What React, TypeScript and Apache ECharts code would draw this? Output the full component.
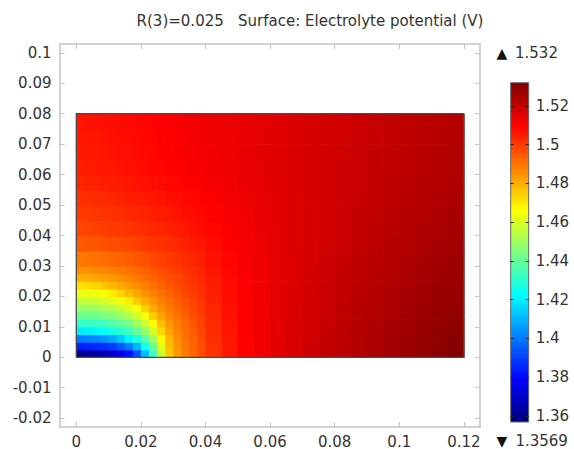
import React, { useEffect, useRef } from "react";
import * as echarts from "echarts";

// Cell edges of the sampled surface (m)
const xEdges = [0, 0.0025, 0.005, 0.0075, 0.01, 0.0125, 0.015, 0.0175, 0.02, 0.0225, 0.025, 0.0275, 0.03, 0.0325, 0.035, 0.0375, 0.04,
  0.045, 0.05, 0.055, 0.06, 0.065, 0.07, 0.075, 0.08, 0.085, 0.09, 0.095, 0.1, 0.105, 0.11, 0.115, 0.12];
const yEdges = [0, 0.0025, 0.005, 0.0075, 0.01, 0.0125, 0.015, 0.0175, 0.02, 0.0225, 0.025, 0.0275, 0.03,
  0.035, 0.04, 0.045, 0.05, 0.055, 0.06, 0.065, 0.07, 0.075, 0.08];

// Electrolyte potential (V) per cell, rows from y=0 upward, columns from x=0 rightward
const potential = [
  [1.3595, 1.3608, 1.3628, 1.3658, 1.3700, 1.3750, 1.3812, 1.3925, 1.4112, 1.4333, 1.4580, 1.4756, 1.4837, 1.4890, 1.4927, 1.4966, 1.5012, 1.5059, 1.5097, 1.5125, 1.5149, 1.5170, 1.5187, 1.5203, 1.5219, 1.5233, 1.5247, 1.5261, 1.5274, 1.5286, 1.5299, 1.5312],
  [1.3836, 1.3842, 1.3854, 1.3871, 1.3891, 1.3937, 1.3998, 1.4102, 1.4253, 1.4410, 1.4618, 1.4772, 1.4844, 1.4894, 1.4930, 1.4969, 1.5016, 1.5062, 1.5098, 1.5125, 1.5148, 1.5168, 1.5186, 1.5202, 1.5217, 1.5231, 1.5245, 1.5258, 1.5271, 1.5283, 1.5296, 1.5308],
  [1.3998, 1.4006, 1.4024, 1.4049, 1.4082, 1.4136, 1.4209, 1.4285, 1.4374, 1.4504, 1.4672, 1.4790, 1.4857, 1.4901, 1.4935, 1.4974, 1.5021, 1.5064, 1.5099, 1.5126, 1.5148, 1.5168, 1.5185, 1.5200, 1.5216, 1.5229, 1.5243, 1.5256, 1.5268, 1.5280, 1.5292, 1.5304],
  [1.4191, 1.4199, 1.4214, 1.4236, 1.4264, 1.4297, 1.4333, 1.4398, 1.4478, 1.4594, 1.4726, 1.4814, 1.4873, 1.4910, 1.4945, 1.4980, 1.5025, 1.5067, 1.5100, 1.5126, 1.5148, 1.5167, 1.5184, 1.5199, 1.5214, 1.5227, 1.5241, 1.5254, 1.5265, 1.5277, 1.5289, 1.5300],
  [1.4313, 1.4317, 1.4325, 1.4339, 1.4366, 1.4398, 1.4434, 1.4495, 1.4572, 1.4673, 1.4778, 1.4840, 1.4887, 1.4921, 1.4955, 1.4986, 1.5029, 1.5069, 1.5101, 1.5126, 1.5147, 1.5166, 1.5182, 1.5197, 1.5212, 1.5226, 1.5238, 1.5251, 1.5263, 1.5274, 1.5285, 1.5295],
  [1.4404, 1.4408, 1.4417, 1.4430, 1.4449, 1.4486, 1.4527, 1.4584, 1.4654, 1.4750, 1.4817, 1.4867, 1.4903, 1.4934, 1.4967, 1.4993, 1.5033, 1.5072, 1.5102, 1.5126, 1.5147, 1.5165, 1.5181, 1.5196, 1.5210, 1.5224, 1.5236, 1.5249, 1.5260, 1.5271, 1.5282, 1.5291],
  [1.4483, 1.4488, 1.4499, 1.4515, 1.4536, 1.4568, 1.4612, 1.4660, 1.4742, 1.4805, 1.4852, 1.4889, 1.4920, 1.4950, 1.4978, 1.5001, 1.5038, 1.5074, 1.5103, 1.5127, 1.5147, 1.5164, 1.5180, 1.5194, 1.5209, 1.5222, 1.5234, 1.5247, 1.5257, 1.5268, 1.5278, 1.5287],
  [1.4556, 1.4563, 1.4575, 1.4593, 1.4616, 1.4645, 1.4692, 1.4755, 1.4805, 1.4846, 1.4881, 1.4909, 1.4937, 1.4965, 1.4988, 1.5009, 1.5042, 1.5077, 1.5104, 1.5127, 1.5146, 1.5163, 1.5179, 1.5193, 1.5207, 1.5220, 1.5232, 1.5244, 1.5254, 1.5265, 1.5275, 1.5283],
  [1.4632, 1.4636, 1.4645, 1.4659, 1.4695, 1.4737, 1.4780, 1.4817, 1.4849, 1.4879, 1.4905, 1.4930, 1.4955, 1.4979, 1.4998, 1.5017, 1.5047, 1.5080, 1.5106, 1.5127, 1.5146, 1.5162, 1.5178, 1.5191, 1.5205, 1.5218, 1.5230, 1.5242, 1.5252, 1.5262, 1.5272, 1.5280],
  [1.4716, 1.4724, 1.4739, 1.4760, 1.4784, 1.4810, 1.4836, 1.4859, 1.4883, 1.4905, 1.4928, 1.4951, 1.4972, 1.4990, 1.5007, 1.5025, 1.5052, 1.5083, 1.5108, 1.5128, 1.5146, 1.5161, 1.5177, 1.5190, 1.5204, 1.5216, 1.5228, 1.5239, 1.5249, 1.5259, 1.5269, 1.5277],
  [1.4800, 1.4805, 1.4814, 1.4827, 1.4841, 1.4856, 1.4874, 1.4892, 1.4910, 1.4930, 1.4950, 1.4968, 1.4985, 1.5000, 1.5017, 1.5033, 1.5058, 1.5086, 1.5109, 1.5129, 1.5146, 1.5161, 1.5176, 1.5189, 1.5202, 1.5214, 1.5225, 1.5237, 1.5247, 1.5256, 1.5266, 1.5274],
  [1.4852, 1.4854, 1.4860, 1.4868, 1.4879, 1.4891, 1.4905, 1.4920, 1.4937, 1.4952, 1.4968, 1.4983, 1.4996, 1.5011, 1.5025, 1.5039, 1.5064, 1.5090, 1.5111, 1.5130, 1.5146, 1.5160, 1.5175, 1.5188, 1.5200, 1.5212, 1.5223, 1.5234, 1.5244, 1.5253, 1.5262, 1.5271],
  [1.4897, 1.4902, 1.4908, 1.4915, 1.4923, 1.4931, 1.4941, 1.4953, 1.4965, 1.4978, 1.4990, 1.5002, 1.5013, 1.5025, 1.5038, 1.5049, 1.5072, 1.5095, 1.5114, 1.5131, 1.5146, 1.5160, 1.5173, 1.5186, 1.5198, 1.5209, 1.5220, 1.5231, 1.5241, 1.5249, 1.5258, 1.5266],
  [1.4950, 1.4953, 1.4957, 1.4963, 1.4969, 1.4976, 1.4983, 1.4991, 1.5000, 1.5009, 1.5017, 1.5027, 1.5036, 1.5045, 1.5055, 1.5064, 1.5083, 1.5102, 1.5117, 1.5132, 1.5146, 1.5159, 1.5171, 1.5183, 1.5195, 1.5205, 1.5215, 1.5226, 1.5236, 1.5244, 1.5252, 1.5260],
  [1.4985, 1.4987, 1.4991, 1.4996, 1.5001, 1.5007, 1.5013, 1.5018, 1.5025, 1.5032, 1.5039, 1.5046, 1.5054, 1.5062, 1.5069, 1.5077, 1.5093, 1.5108, 1.5121, 1.5135, 1.5147, 1.5159, 1.5170, 1.5182, 1.5192, 1.5202, 1.5212, 1.5221, 1.5231, 1.5239, 1.5247, 1.5255],
  [1.5003, 1.5005, 1.5009, 1.5014, 1.5018, 1.5024, 1.5030, 1.5035, 1.5041, 1.5048, 1.5054, 1.5061, 1.5068, 1.5075, 1.5081, 1.5088, 1.5101, 1.5114, 1.5126, 1.5138, 1.5149, 1.5160, 1.5170, 1.5181, 1.5190, 1.5200, 1.5209, 1.5218, 1.5227, 1.5235, 1.5242, 1.5250],
  [1.5021, 1.5024, 1.5027, 1.5031, 1.5036, 1.5041, 1.5047, 1.5052, 1.5058, 1.5063, 1.5069, 1.5075, 1.5081, 1.5088, 1.5094, 1.5099, 1.5110, 1.5121, 1.5131, 1.5141, 1.5151, 1.5161, 1.5170, 1.5180, 1.5189, 1.5197, 1.5206, 1.5215, 1.5223, 1.5230, 1.5238, 1.5245],
  [1.5039, 1.5042, 1.5045, 1.5049, 1.5053, 1.5058, 1.5064, 1.5069, 1.5074, 1.5079, 1.5084, 1.5090, 1.5095, 1.5101, 1.5106, 1.5110, 1.5118, 1.5127, 1.5136, 1.5144, 1.5153, 1.5162, 1.5170, 1.5179, 1.5187, 1.5195, 1.5203, 1.5212, 1.5219, 1.5226, 1.5233, 1.5240],
  [1.5051, 1.5054, 1.5057, 1.5060, 1.5064, 1.5069, 1.5074, 1.5079, 1.5084, 1.5089, 1.5094, 1.5099, 1.5104, 1.5109, 1.5113, 1.5117, 1.5123, 1.5131, 1.5139, 1.5146, 1.5154, 1.5162, 1.5170, 1.5178, 1.5186, 1.5194, 1.5202, 1.5209, 1.5216, 1.5223, 1.5230, 1.5236],
  [1.5056, 1.5059, 1.5062, 1.5065, 1.5069, 1.5074, 1.5078, 1.5083, 1.5088, 1.5093, 1.5097, 1.5102, 1.5107, 1.5112, 1.5116, 1.5120, 1.5125, 1.5133, 1.5140, 1.5147, 1.5154, 1.5162, 1.5170, 1.5177, 1.5185, 1.5193, 1.5201, 1.5208, 1.5214, 1.5221, 1.5228, 1.5234],
  [1.5061, 1.5064, 1.5067, 1.5070, 1.5074, 1.5078, 1.5083, 1.5087, 1.5091, 1.5096, 1.5101, 1.5106, 1.5110, 1.5115, 1.5119, 1.5123, 1.5128, 1.5134, 1.5141, 1.5148, 1.5155, 1.5162, 1.5169, 1.5177, 1.5184, 1.5192, 1.5200, 1.5206, 1.5213, 1.5219, 1.5225, 1.5231],
  [1.5066, 1.5069, 1.5072, 1.5075, 1.5079, 1.5083, 1.5087, 1.5091, 1.5095, 1.5100, 1.5104, 1.5109, 1.5113, 1.5118, 1.5122, 1.5126, 1.5130, 1.5136, 1.5142, 1.5149, 1.5155, 1.5162, 1.5169, 1.5176, 1.5183, 1.5191, 1.5198, 1.5205, 1.5211, 1.5217, 1.5223, 1.5229],
];

const domainX = [0, 0.12];
const domainY = [0, 0.08];
const xTicks = [0, 0.02, 0.04, 0.06, 0.08, 0.1, 0.12];
const yTicks = [-0.02, -0.01, 0, 0.01, 0.02, 0.03, 0.04, 0.05, 0.06, 0.07, 0.08, 0.09, 0.1];
const colorTicks = [1.36, 1.38, 1.4, 1.42, 1.44, 1.46, 1.48, 1.5, 1.52];
const rangeMin = 1.3569;
const rangeMax = 1.532;
const titleText = "R(3)=0.025   Surface: Electrolyte potential (V)";
const jetColors = ["#00007f", "#0000ff", "#007fff", "#00ffff", "#7fff7f", "#ffff00", "#ff7f00", "#ff0000", "#7f0000"];

const FONT = "DejaVu Sans";
const TXT = "#333333";
const FRAME = "#c4c4c4";

const fmt = (v: number) => String(parseFloat(Number(v).toFixed(4)));

export default function App() {
  const ref = useRef<HTMLDivElement>(null);

  useEffect(() => {
    if (!ref.current) return;
    const chart = echarts.init(ref.current, null, { renderer: "svg" });

    const cells: number[][] = [];
    for (let i = 0; i < potential.length; i++) {
      for (let j = 0; j < potential[i].length; j++) {
        cells.push([xEdges[j], xEdges[j + 1], yEdges[i], yEdges[i + 1], potential[i][j]]);
      }
    }
    const outline = [
      [domainX[0], domainY[0]],
      [domainX[1], domainY[0]],
      [domainX[1], domainY[1]],
      [domainX[0], domainY[1]],
      [domainX[0], domainY[0]],
    ];

    const gradStops = jetColors.map((c, i) => ({ offset: i / (jetColors.length - 1), color: c }));

    const mainX = { min: -0.0052, max: 0.125 };
    const mainY = { min: -0.0229, max: 0.1029 };
    const lbl = { fontFamily: FONT, fontSize: 15, color: TXT };

    const option: any = {
      animation: false,
      backgroundColor: "#ffffff",
      textStyle: { fontFamily: FONT },
      grid: [
        { left: 59.5, top: 44, width: 420.5, height: 383.3 },
        {
          left: 510.7, top: 82.7, width: 18, height: 339.3,
          show: true,
          backgroundColor: new echarts.graphic.LinearGradient(0, 1, 0, 0, gradStops),
          borderColor: "#666666",
          borderWidth: 1,
        },
      ],
      xAxis: [
        {
          type: "value", gridIndex: 0, position: "bottom", ...mainX,
          axisLine: { show: true, onZero: false, lineStyle: { color: FRAME, width: 1.5 } },
          axisTick: { show: true, inside: true, length: 5, customValues: xTicks, lineStyle: { color: FRAME } },
          axisLabel: { ...lbl, margin: 7, customValues: xTicks, formatter: (v: number) => fmt(v) },
          splitLine: { show: false },
        },
        {
          type: "value", gridIndex: 0, position: "top", ...mainX,
          axisLine: { show: true, onZero: false, lineStyle: { color: FRAME, width: 1.5 } },
          axisTick: { show: true, inside: true, length: 5, customValues: xTicks, lineStyle: { color: FRAME } },
          axisLabel: { show: false },
          splitLine: { show: false },
        },
        { type: "value", gridIndex: 1, show: false, min: 0, max: 1 },
      ],
      yAxis: [
        {
          type: "value", gridIndex: 0, position: "left", ...mainY,
          axisLine: { show: true, onZero: false, lineStyle: { color: FRAME, width: 1.5 } },
          axisTick: { show: true, inside: true, length: 5, customValues: yTicks, lineStyle: { color: FRAME } },
          axisLabel: { ...lbl, margin: 8, customValues: yTicks, formatter: (v: number) => fmt(v) },
          splitLine: { show: false },
        },
        {
          type: "value", gridIndex: 0, position: "right", ...mainY,
          axisLine: { show: true, onZero: false, lineStyle: { color: FRAME, width: 1.5 } },
          axisTick: { show: true, inside: true, length: 5, customValues: yTicks, lineStyle: { color: FRAME } },
          axisLabel: { show: false },
          splitLine: { show: false },
        },
        {
          type: "value", gridIndex: 1, position: "right", min: rangeMin, max: rangeMax,
          axisLine: { show: false, onZero: false },
          axisTick: { show: true, inside: true, length: 3, customValues: colorTicks, lineStyle: { color: "#222222" } },
          axisLabel: { ...lbl, margin: 7, customValues: colorTicks, formatter: (v: number) => fmt(v) },
          splitLine: { show: false },
        },
        {
          type: "value", gridIndex: 1, position: "left", min: rangeMin, max: rangeMax,
          axisLine: { show: false, onZero: false },
          axisTick: { show: true, inside: true, length: 3, customValues: colorTicks, lineStyle: { color: "#222222" } },
          axisLabel: { show: false },
          splitLine: { show: false },
        },
      ],
      visualMap: {
        show: false,
        type: "continuous",
        min: rangeMin,
        max: rangeMax,
        dimension: 4,
        seriesIndex: 0,
        inRange: { color: jetColors },
      },
      series: [
        {
          type: "custom",
          xAxisIndex: 0,
          yAxisIndex: 0,
          data: cells,
          encode: { x: [0, 1], y: [2, 3] },
          renderItem: (params: any, api: any) => {
            const p0 = api.coord([api.value(0), api.value(2)]);
            const p1 = api.coord([api.value(1), api.value(3)]);
            return {
              type: "rect",
              shape: { x: p0[0], y: p1[1], width: p1[0] - p0[0] + 0.7, height: p0[1] - p1[1] + 0.7 },
              style: { fill: api.visual("color"), stroke: null },
            };
          },
          silent: true,
        },
        {
          type: "line",
          xAxisIndex: 0,
          yAxisIndex: 0,
          data: outline,
          symbol: "none",
          lineStyle: { color: "#4a4a4a", width: 1.3 },
          silent: true,
          z: 5,
        },
      ],
      graphic: [
        {
          type: "text", x: 310, y: 21,
          style: { text: titleText, font: `15px "${FONT}"`, fill: TXT, align: "center", verticalAlign: "middle" },
        },
        {
          type: "text", x: 502, y: 52.5,
          style: { text: "\u25B2", font: `14px "${FONT}"`, fill: "#111111", align: "center", verticalAlign: "middle" },
        },
        {
          type: "text", x: 515, y: 52.5,
          style: { text: fmt(rangeMax), font: `15px "${FONT}"`, fill: TXT, align: "left", verticalAlign: "middle" },
        },
        {
          type: "text", x: 502, y: 440.5,
          style: { text: "\u25BC", font: `14px "${FONT}"`, fill: "#111111", align: "center", verticalAlign: "middle" },
        },
        {
          type: "text", x: 515.4, y: 440.5,
          style: { text: fmt(rangeMin), font: `15px "${FONT}"`, fill: TXT, align: "left", verticalAlign: "middle" },
        },
      ],
    };

    chart.setOption(option);
    return () => chart.dispose();
  }, []);

  return (
    <div
      ref={ref}
      style={{ position: "fixed", left: 0, top: 0, width: 574, height: 449, background: "#fff" }}
    />
  );
}
